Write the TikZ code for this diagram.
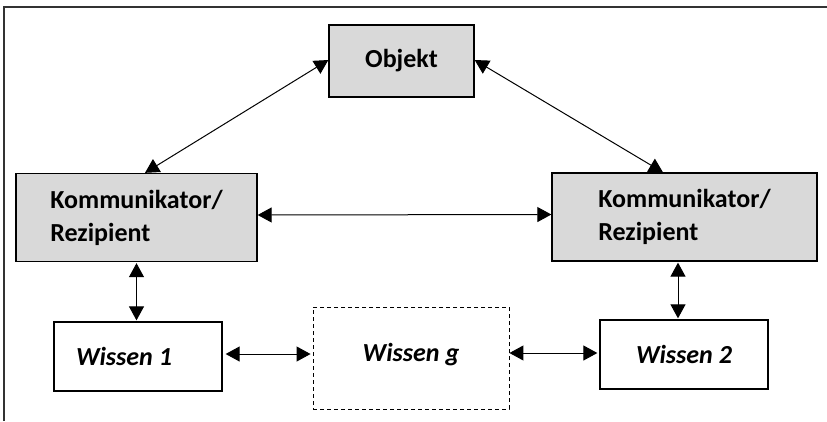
\documentclass[tikz,border=0pt]{standalone}
\usepackage{fontspec}
\setmainfont{Carlito}
\usetikzlibrary{arrows.meta}

\definecolor{boxgray}{HTML}{D9D9D9}

\tikzset{
  base/.style={font=\fontsize{26}{30}\selectfont\bfseries, inner sep=0pt},
  graybox/.style={base, draw=black, line width=1.3pt, fill=boxgray},
  plainbox/.style={base, draw=black, line width=1.3pt, fill=white},
  dashbox/.style={base, draw=black, line width=0.9pt, dash pattern=on 4pt off 3pt},
  wtext/.style={font=\fontsize{26}{30}\selectfont\bfseries\itshape, inner sep=0pt},
  biarrow/.style={line width=1pt, {Triangle[length=14pt,width=15pt]}-{Triangle[length=14pt,width=15pt]}},
}

\begin{document}
\begin{tikzpicture}[x=1pt, y=-1pt]
  \useasboundingbox (0,0) rectangle (827,421);

  % open frame (only left and top edges fall inside the page)
  \draw[line width=1.4pt, black!80] (4,421) -- (4,7) -- (827,7);

  % boxes
  \node[graybox, minimum width=145pt, minimum height=72pt] (obj) at (401.5,61) {Objekt};
  \node[graybox, minimum width=241pt, minimum height=88pt, align=left] (kl) at (136.5,217.5)
    {Kommunikator/\\[3pt]Rezipient};
  \node[graybox, minimum width=265pt, minimum height=88pt, align=left] (kr) at (684.5,217)
    {Kommunikator/\\[3pt]Rezipient};
  \node[plainbox, minimum width=168pt, minimum height=69pt] (w1) at (138,356.5) {};
  \node[wtext] (w1t) at (124,356) {Wissen 1};
  \node[dashbox, minimum width=196pt, minimum height=102pt] (wg) at (411,358) {};
  \node[wtext] (wgt) at (411,355) {Wissen g};
  \node[plainbox, minimum width=168pt, minimum height=69pt, font=\fontsize{26}{30}\selectfont\bfseries\itshape] (w2) at (684,354.5) {Wissen 2};

  % connectors
  \draw[biarrow] ([yshift=1pt]obj.west) -- ([xshift=8.5pt]kl.north);
  \draw[biarrow] ([yshift=1pt]obj.east) -- ([xshift=-21.5pt]kr.north);
  \draw[biarrow] ([yshift=2.5pt]kl.east) -- ([yshift=2.5pt]kr.west);
  \draw[biarrow, shorten <=1pt, shorten >=1pt] (kl.south) -- (kl.south |- w1.north);
  \draw[biarrow, shorten <=1pt, shorten >=1pt] ([xshift=-6.5pt]kr.south) coordinate (krs) -- (krs |- w2.north);
  \draw[biarrow, shorten <=3pt, shorten >=2pt] ([yshift=2.5pt]w1.east) -- ([yshift=2.5pt]w1.east -| wg.west);
  \draw[biarrow, shorten >=2pt] ([yshift=5pt]wg.east) -- ([yshift=5pt]wg.east -| w2.west);
\end{tikzpicture}
\end{document}
